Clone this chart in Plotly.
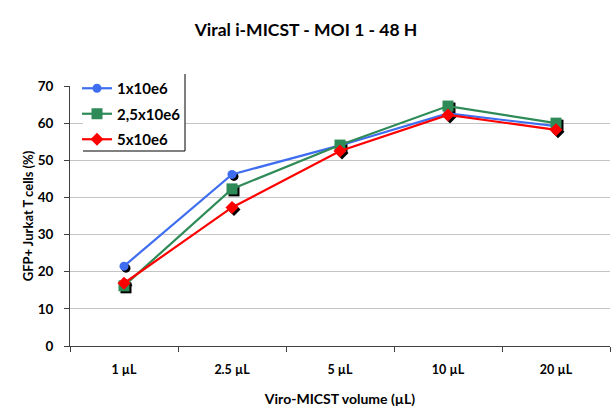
import plotly.graph_objects as go

categories = ["1 µL", "2.5 µL", "5 µL", "10 µL", "20 µL"]
s1_name = "1x10e6"
s1_vals = [21.5, 46.2, 54.0, 62.6, 59.2]
s2_name = "2,5x10e6"
s2_vals = [16.2, 42.3, 54.1, 64.6, 60.0]
s3_name = "5x10e6"
s3_vals = [16.9, 37.3, 52.5, 62.2, 58.2]
y_ticks = [0, 10, 20, 30, 40, 50, 60, 70]

series = [
    (s1_name, s1_vals, "#3F6DF0", "circle", 9),
    (s2_name, s2_vals, "#2E8B57", "square", 11),
    (s3_name, s3_vals, "#FF0000", "diamond", 10),
]

FONT = "Lato"
fig = go.Figure()

# shadow markers (base subplot, hidden axes shifted by ~2px)
for name, vals, color, sym, size in series:
    fig.add_trace(go.Scatter(x=categories, y=vals, mode="markers", xaxis="x", yaxis="y",
                             marker=dict(symbol=sym, size=size, color="black"),
                             showlegend=False, hoverinfo="skip"))

for name, vals, color, sym, size in series:
    fig.add_trace(go.Scatter(x=categories, y=vals, mode="lines+markers", name=name,
                             xaxis="x2", yaxis="y2", legendgroup=name,
                             line=dict(color=color, width=2.2),
                             marker=dict(symbol=sym, size=size, color=color)))

T, B, L, R = 50, 71, 70, 2
H = 417 - T - B
W = 612 - L - R
ytop = (346 - 86) / H
dx = 2 / 108.0
dy = 2 / 3.714
axis_col = "#404040"


def px_x(p):
    return (p - L) / W


def px_y(p):
    return (417 - B - p) / H


fig.update_layout(
    width=612, height=417,
    margin=dict(l=L, r=R, t=T, b=B, autoexpand=False),
    paper_bgcolor="white", plot_bgcolor="white",
    font=dict(family=FONT, color="black"),
    title=dict(text="Viral i-MICST - MOI 1 - 48 H", x=0.5, xanchor="center",
               y=1 - 30 / 417, yanchor="middle",
               font=dict(size=17.5, family=FONT, weight="bold")),
    xaxis=dict(type="category", categoryorder="array", categoryarray=categories,
               range=[-0.5 - dx, 4.5 - dx], visible=False),
    yaxis=dict(range=[0 + dy, 70 + dy], domain=[0, ytop], visible=False),
    xaxis2=dict(type="category", categoryorder="array", categoryarray=categories,
                overlaying="x", range=[-0.5, 4.5], tickson="boundaries", ticks="outside", ticklen=5,
                tickcolor=axis_col, showline=True, linecolor=axis_col, linewidth=1,
                showgrid=False, tickfont=dict(size=12.5, family=FONT, weight="bold"),
                ticklabelstandoff=12, automargin=False,
                title=dict(text="Viro-MICST volume (µL)",
                           font=dict(size=14, family=FONT, weight="bold"), standoff=18)),
    yaxis2=dict(range=[0, 70], overlaying="y", tickvals=y_ticks, ticks="outside", ticklen=5,
                tickcolor=axis_col, showline=True, linecolor=axis_col, linewidth=1,
                showgrid=True, gridcolor="#C4C4C4", gridwidth=1, zeroline=False,
                tickfont=dict(size=13.5, family=FONT, weight="bold"), ticklabelstandoff=8,
                automargin=False,
                title=dict(text="GFP+ Jurkat T cells (%)",
                           font=dict(size=13, family=FONT, weight="bold"), standoff=1)),
    legend=dict(x=px_x(77), y=px_y(72), xanchor="left", yanchor="top",
                bgcolor="rgba(0,0,0,0)", borderwidth=0,
                font=dict(size=15, family=FONT, weight="bold"), itemwidth=30,
                tracegroupgap=3),
    showlegend=True,
)
# legend frame: white box with right and bottom black edge
xl, xr = px_x(83), px_x(185)
yt, yb = px_y(74), px_y(151)
fig.add_shape(type="rect", xref="paper", yref="paper", x0=xl, x1=xr, y0=yb, y1=yt,
              fillcolor="white", line=dict(width=0), layer="above")
fig.add_shape(type="line", xref="paper", yref="paper", x0=xr, x1=xr, y0=yt, y1=yb,
              line=dict(color="black", width=1), layer="above")
fig.add_shape(type="line", xref="paper", yref="paper", x0=xl, x1=xr, y0=yb, y1=yb,
              line=dict(color="black", width=1), layer="above")

fig.write_html("out.html", config={"displayModeBar": False},
               post_script="document.body.style.margin='0';")
